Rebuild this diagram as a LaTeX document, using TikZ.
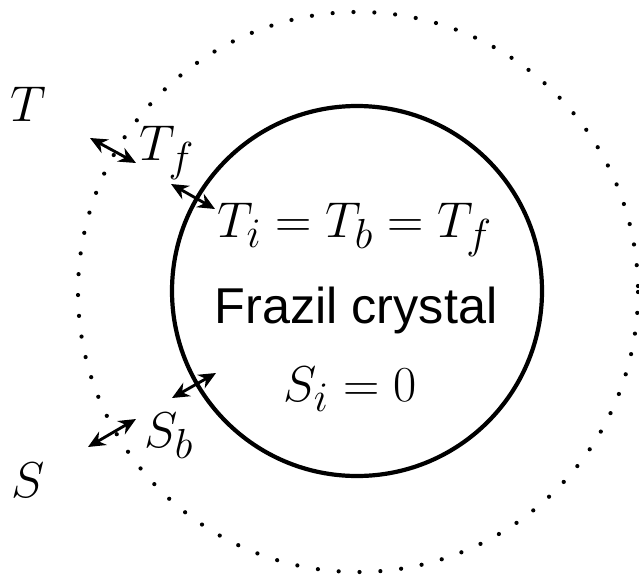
\documentclass[tikz,border=0pt]{standalone}
\usepackage{fontspec}
\newfontfamily\labelfont{Liberation Sans}
\usetikzlibrary{arrows.meta}
\begin{document}
\begin{tikzpicture}[x=0.0184cm,y=-0.0184cm,
    flux/.style={{Stealth[length=9pt,width=8pt]}-{Stealth[length=9pt,width=8pt]},line width=1.5pt},
    lbl/.style={font=\Huge,inner sep=0pt,anchor=base,scale=1.06}]
    \useasboundingbox (0,0) rectangle (639,575);
    \draw[line width=2.2pt,line cap=round,dash pattern=on 0pt off 10.93pt] (358,292) circle[radius=280];
    \draw[line width=2.2pt] (357,291) circle[radius=185];

    \node[lbl] (T) at (28,121) {$T$};
    \node[lbl] (Tf) at (167,160) {$T_f$};
    \node[lbl] (Ti) at (355,237) {$T_i=T_b=T_f$};
    \node[lbl] (crystal) at (356,323) {\labelfont Frazil crystal};
    \node[lbl] (Si) at (350,401) {$S_i=0$};
    \node[lbl] (Sb) at (169,447) {$S_b$};
    \node[lbl] (S) at (28,497) {$S$};

    \foreach \n/\xa/\ya/\xb/\yb in {
        t1/90/138/136/163,
        t2/171/184/215/209,
        s2/172/398/216/373,
        s1/88/447/136/419}{
      \coordinate (\n a) at (\xa,\ya);
      \coordinate (\n b) at (\xb,\yb);
      \draw[flux] (\n a) -- (\n b);
    }
\end{tikzpicture}
\end{document}
